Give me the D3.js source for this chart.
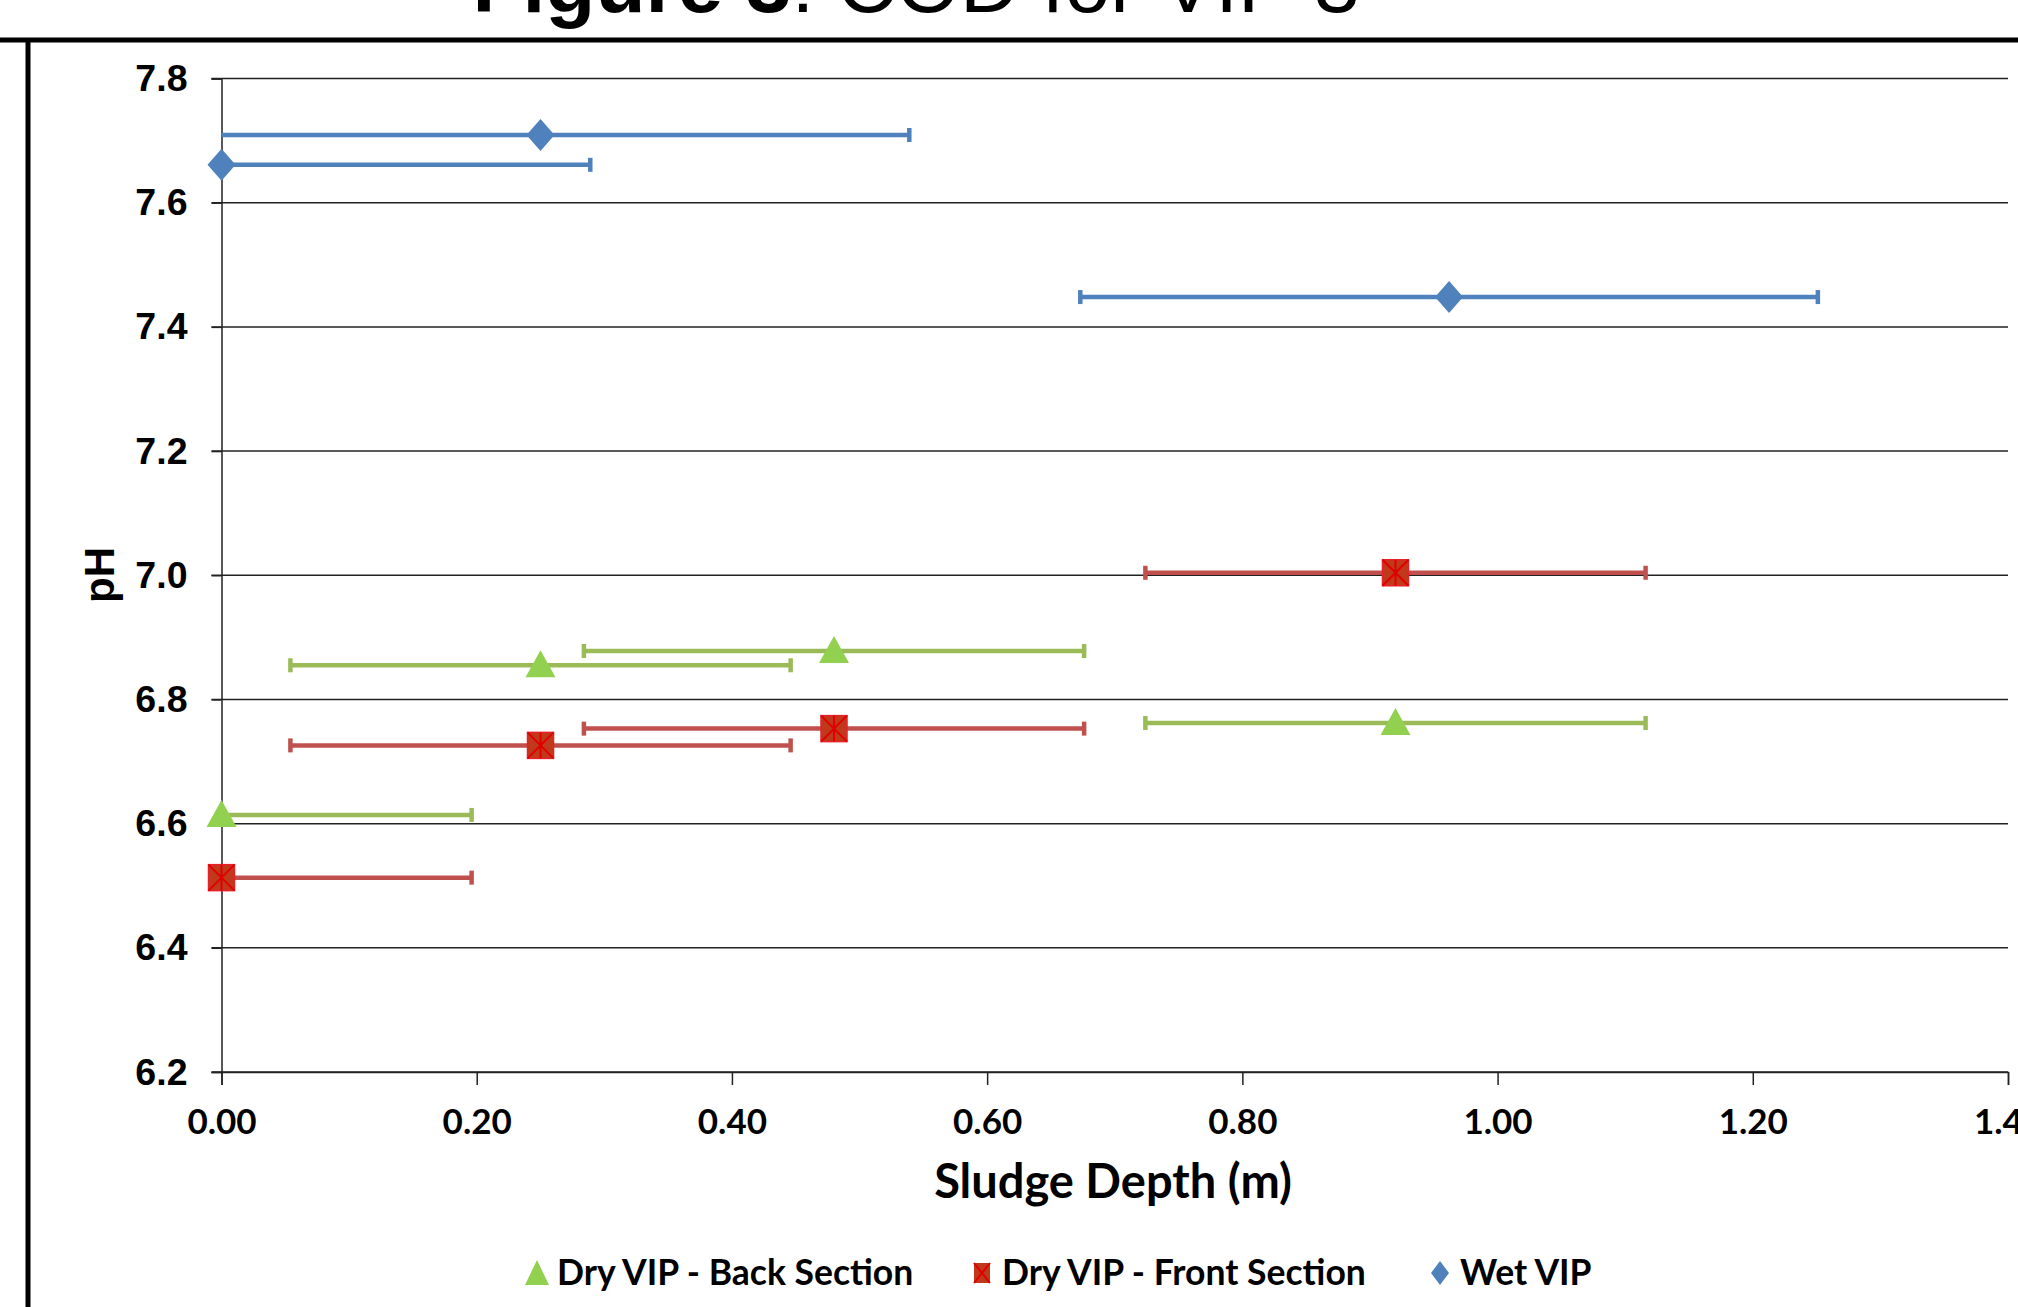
<!DOCTYPE html>
<html>
<head>
<meta charset="utf-8">
<script src="https://cdn.jsdelivr.net/npm/d3@7"></script>
<style>
  body { margin: 0; background: #fff; }
  svg { display: block; }
</style>
</head>
<body>
<svg id="chart" width="2018" height="1307"></svg>
<script>
// data
var dryDepth = [0, 0.25, 0.48, 0.92];
var dryBackPH = [6.614, 6.855, 6.878, 6.762];
var dryFrontPH = [6.513, 6.726, 6.753, 7.004];
var dryErr = 0.196;
var wetDepth = [0, 0.25, 0.962];
var wetPH = [7.661, 7.709, 7.448];
var wetErr = 0.289;
var xTicks = [0, 0.2, 0.4, 0.6, 0.8, 1.0, 1.2, 1.4];
var yTicks = [6.2, 6.4, 6.6, 6.8, 7.0, 7.2, 7.4, 7.6, 7.8];
var legendNames = ["Dry VIP - Back Section", "Dry VIP - Front Section", "Wet VIP"];

var svg = d3.select("#chart");
var plotLeft = 221.5, plotRight = 2008, plotTop = 78.5, plotBottom = 1072;

var x = d3.scaleLinear().domain([0, 1.4]).range([plotLeft, plotRight]);
var y = d3.scaleLinear().domain([6.2, 7.8]).range([plotBottom, plotTop]);

// title, cut off at the top
var title = svg.append("text")
  .attr("x", 916).attr("y", 12)
  .attr("text-anchor", "middle")
  .style("font-family", "Liberation Sans, Arial, sans-serif")
  .style("font-size", "82px");
title.append("tspan").style("font-weight", "bold").text("Figure 3");
title.append("tspan").text(": COD for VIP 3");

// frame lines
svg.append("line").attr("x1", 0).attr("x2", 2018).attr("y1", 40).attr("y2", 40)
  .attr("stroke", "#000").attr("stroke-width", 5);
svg.append("line").attr("x1", 28).attr("x2", 28).attr("y1", 38).attr("y2", 1307)
  .attr("stroke", "#000").attr("stroke-width", 5);

// grid lines
svg.append("g").selectAll("line").data(yTicks).enter().append("line")
  .attr("x1", plotLeft - 10).attr("x2", plotRight)
  .attr("y1", (d) => y(d)).attr("y2", (d) => y(d))
  .attr("stroke", "#222").attr("stroke-width", 1.5);

// y axis
var yAxis = svg.append("g")
  .attr("transform", "translate(" + plotLeft + ",0)")
  .call(d3.axisLeft(y).tickValues(yTicks).tickFormat(d3.format(".1f")).tickSize(10).tickPadding(24));
yAxis.select(".domain").attr("stroke", "#222").attr("stroke-width", 1.5);
yAxis.selectAll("line").attr("stroke", "#222").attr("stroke-width", 1.5);
yAxis.selectAll("text")
  .style("font-family", "Liberation Sans, Arial, sans-serif")
  .style("font-weight", "bold").style("font-size", "37.5px").attr("fill", "#000");

// x axis
var xAxis = svg.append("g")
  .attr("transform", "translate(0," + plotBottom + ")")
  .call(d3.axisBottom(x).tickValues(xTicks).tickFormat(d3.format(".2f")).tickSize(13).tickPadding(24));
xAxis.select(".domain").attr("stroke", "#222").attr("stroke-width", 1.5);
xAxis.selectAll("line").attr("stroke", "#222").attr("stroke-width", 1.5);
xAxis.selectAll("text")
  .style("font-family", "Lato, sans-serif")
  .style("font-weight", "bold").style("font-size", "35px").attr("fill", "#000");

// axis titles
svg.append("text")
  .attr("transform", "translate(114,575) rotate(-90)")
  .attr("text-anchor", "middle")
  .style("font-family", "Liberation Sans, Arial, sans-serif")
  .style("font-weight", "bold").style("font-size", "42px")
  .text("pH");
svg.append("text")
  .attr("x", 1113).attr("y", 1198)
  .attr("text-anchor", "middle")
  .style("font-family", "Lato, sans-serif")
  .style("font-weight", "bold").style("font-size", "47px")
  .text("Sludge Depth (m)");

// horizontal error bars
function errorBars(xs, ys, err, color) {
  var g = svg.append("g");
  xs.forEach((d, i) => {
    var lo = Math.max(0, d - err), hi = d + err;
    g.append("line")
      .attr("x1", x(lo)).attr("x2", x(hi))
      .attr("y1", y(ys[i])).attr("y2", y(ys[i]))
      .attr("stroke", color).attr("stroke-width", 4.5);
    [d - err, hi].forEach((e) => {
      if (e < 0) return;
      g.append("line")
        .attr("x1", x(e)).attr("x2", x(e))
        .attr("y1", y(ys[i]) - 7).attr("y2", y(ys[i]) + 7)
        .attr("stroke", color).attr("stroke-width", 4.5);
    });
  });
}
errorBars(dryDepth, dryBackPH, dryErr, "#9BBB59");
errorBars(dryDepth, dryFrontPH, dryErr, "#C0504D");
errorBars(wetDepth, wetPH, wetErr, "#4F81BD");

// markers
function triangle(g, cx, cy) {
  g.append("path")
    .attr("d", "M" + cx + "," + (cy - 15) + "L" + (cx + 15) + "," + (cy + 12) + "L" + (cx - 15) + "," + (cy + 12) + "Z")
    .attr("fill", "#92D050");
}
function starSquare(g, cx, cy) {
  var s = 13;
  g.append("rect").attr("x", cx - s).attr("y", cy - s).attr("width", 2 * s).attr("height", 2 * s)
    .attr("fill", "#C0391B").attr("stroke", "#E8202A").attr("stroke-width", 1.5);
  g.append("path")
    .attr("d", "M" + (cx - s) + "," + (cy - s) + "L" + (cx + s) + "," + (cy + s) +
      "M" + (cx + s) + "," + (cy - s) + "L" + (cx - s) + "," + (cy + s) +
      "M" + cx + "," + (cy - s) + "L" + cx + "," + (cy + s))
    .attr("stroke", "#E00000").attr("stroke-width", 2);
}
function diamond(g, cx, cy) {
  g.append("path")
    .attr("d", "M" + cx + "," + (cy - 16) + "L" + (cx + 14) + "," + cy + "L" + cx + "," + (cy + 16) + "L" + (cx - 14) + "," + cy + "Z")
    .attr("fill", "#4F81BD");
}

var marks = svg.append("g");
dryDepth.forEach((d, i) => triangle(marks, x(d), y(dryBackPH[i])));
dryDepth.forEach((d, i) => starSquare(marks, x(d), y(dryFrontPH[i])));
wetDepth.forEach((d, i) => diamond(marks, x(d), y(wetPH[i])));

// legend
var legendX = [537, 982, 1440];
var lg = svg.append("g");
legendNames.forEach((name, i) => {
  var g = lg.append("g");
  if (i === 0) {
    g.append("path").attr("d", "M" + legendX[i] + ",1260L" + (legendX[i] + 12) + ",1285L" + (legendX[i] - 12) + ",1285Z").attr("fill", "#92D050");
  } else if (i === 1) {
    var cx = legendX[i], s = 10;
    g.append("rect").attr("x", cx - 8).attr("y", 1273 - s).attr("width", 16).attr("height", 2 * s).attr("fill", "#C0391B");
    g.append("path")
      .attr("d", "M" + (cx - 8) + "," + (1273 - s) + "L" + (cx + 8) + "," + (1273 + s) + "M" + (cx + 8) + "," + (1273 - s) + "L" + (cx - 8) + "," + (1273 + s))
      .attr("stroke", "#E00000").attr("stroke-width", 2);
  } else {
    g.append("path").attr("d", "M" + legendX[i] + ",1261L" + (legendX[i] + 9) + ",1273L" + legendX[i] + ",1285L" + (legendX[i] - 9) + ",1273Z").attr("fill", "#4F81BD");
  }
  g.append("text")
    .attr("x", legendX[i] + 20).attr("y", 1273).attr("dy", "0.35em")
    .style("font-family", "Lato, sans-serif")
    .style("font-weight", "bold").style("font-size", "35.5px")
    .text(name);
});
</script>
</body>
</html>
